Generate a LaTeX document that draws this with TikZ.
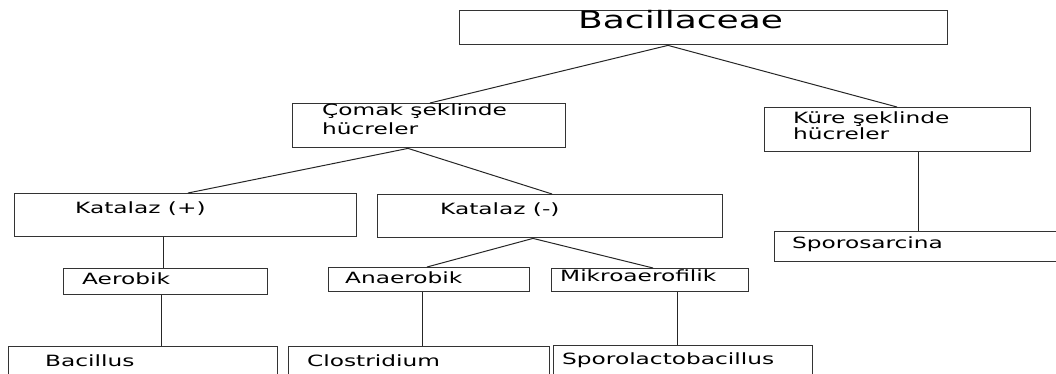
\documentclass[tikz,border=0pt]{standalone}
\usepackage{fontspec}
\setmainfont{DejaVu Sans}[FakeStretch=1.5]
\usetikzlibrary{calc}

\begin{document}
\begin{tikzpicture}[x=1pt,y=-1pt,
  kutu/.style={draw=black!80, line width=1.4pt, inner sep=0pt, anchor=north west},
  yazi/.style={anchor=base west, inner sep=0pt, font=\fontsize{15.5}{16}\selectfont, align=left},
  hat/.style={draw=black!85, line width=1pt}]
  \useasboundingbox (0,0) rectangle (1056,374);
  \clip (0,0) rectangle (1056,374);

  % kutular
  \node[kutu, minimum width=488pt, minimum height=34pt] (bac) at (459,10) {};
  \node[kutu, minimum width=273pt, minimum height=44pt] (cmk) at (292,103) {};
  \node[kutu, minimum width=266pt, minimum height=44pt] (kur) at (764,107) {};
  \node[kutu, minimum width=342pt, minimum height=43pt] (katP) at (14,193) {};
  \node[kutu, minimum width=345pt, minimum height=43pt] (katN) at (377,194) {};
  \node[kutu, minimum width=204pt, minimum height=26pt] (aer) at (63,268) {};
  \node[kutu, minimum width=201pt, minimum height=24pt] (ana) at (328,267) {};
  \node[kutu, minimum width=197pt, minimum height=23pt] (mik) at (551,268) {};
  \node[kutu, minimum width=286pt, minimum height=30pt] (sps) at (774,231) {};
  \node[kutu, minimum width=269pt, minimum height=44pt] (bcl) at (8,346) {};
  \node[kutu, minimum width=261pt, minimum height=44pt] (clo) at (288,346) {};
  \node[kutu, minimum width=259pt, minimum height=45pt] (spl) at (553,345) {};

  % yazilar
  \node[yazi, font=\fontsize{24}{28}\selectfont] (bacT) at (578,29) {Bacillaceae};
  \node[yazi] (cmkT) at (322,135) {Çomak şeklinde\\[3pt]hücreler};
  \node[yazi] (kurT) at (793,140) {Küre şeklinde\\[1pt]hücreler};
  \node[yazi] (katPT) at (75,213) {Katalaz (+)};
  \node[yazi] (katNT) at (440,214) {Katalaz (-)};
  \node[yazi] (aerT) at (82,284) {Aerobik};
  \node[yazi] (anaT) at (345,283) {Anaerobik};
  \node[yazi] (mikT) at (560,281) {Mikroaerofilik};
  \node[yazi] (spsT) at (792,248) {Sporosarcina};
  \node[yazi] (bclT) at (45,366) {Bacillus};
  \node[yazi] (cloT) at (307,366) {Clostridium};
  \node[yazi] (splT) at (562,364) {Sporolactobacillus};

  % baglantilar
  \draw[hat] ($(bac.south west)+(209,0)$) -- ($(cmk.north west)+(138,0)$);
  \draw[hat] ($(bac.south west)+(209,0)$) -- ($(kur.north west)+(133,0)$);
  \draw[hat] ($(cmk.south west)+(116,0)$) -- ($(katP.north west)+(174,0)$);
  \draw[hat] ($(cmk.south west)+(116,0)$) -- ($(katN.north west)+(175,0)$);
  \draw[hat] ($(katP.south west)+(149,0)$) -- ($(aer.north west)+(100,0)$);
  \draw[hat] ($(aer.south west)+(98,0)$) -- ($(bcl.north west)+(153,0)$);
  \draw[hat] ($(katN.south west)+(156,0)$) -- ($(ana.north west)+(99,0)$);
  \draw[hat] ($(katN.south west)+(156,0)$) -- ($(mik.north west)+(102,0)$);
  \draw[hat] ($(ana.south west)+(94,0)$) -- ($(clo.north west)+(134,0)$);
  \draw[hat] ($(mik.south west)+(126,0)$) -- ($(spl.north west)+(124,0)$);
  \draw[hat] ($(kur.south west)+(154,0)$) -- ($(sps.north west)+(144,0)$);
\end{tikzpicture}
\end{document}
